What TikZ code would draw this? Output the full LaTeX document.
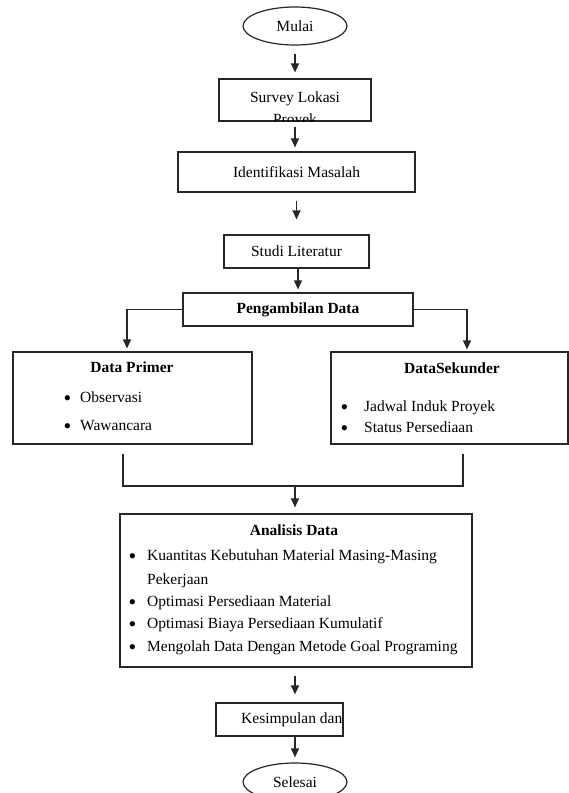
\documentclass[tikz,border=0pt]{standalone}
\usepackage{fontspec}
\setmainfont{Liberation Serif}
\usetikzlibrary{shapes.geometric,arrows.meta}
\newcommand{\blt}{\smash{\raisebox{-3pt}{\fontsize{22}{22}\selectfont•}}}

\begin{document}
\begin{tikzpicture}[x=1pt,y=-1pt,
  font=\fontsize{15.5}{22}\selectfont,
  box/.style={draw=black!85,line width=1.2pt,inner sep=0pt},
  oval/.style={draw=black!85,ellipse,line width=1.2pt,inner sep=0pt,
    minimum width=104pt,minimum height=38pt},
  txt/.style={inner sep=0pt},
  hd/.style={inner sep=0pt,font=\fontsize{15.5}{22}\selectfont\bfseries},
  item/.style={inner sep=0pt,anchor=west},
  arr/.style={draw=black!85,line width=1.2pt,-{Triangle[width=8pt,length=9pt]}},
  ln/.style={draw=black!85,line width=1.2pt}]
  \useasboundingbox (0,0) rectangle (569,793);
  % top of the chart
  \node[oval] (mulai) at (295,26) {Mulai};
  \node[box,minimum width=152pt,minimum height=42pt] (survey) at (295,100) {};
  \begin{scope}
    \clip (survey.south west) rectangle (survey.north east);
    \node[txt,align=center] (surveytxt) at (295,110) {Survey Lokasi\\Proyek};
  \end{scope}
  \node[box,minimum width=237pt,minimum height=40pt] (ident) at (296.5,172) {Identifikasi Masalah};
  \node[box,minimum width=145pt,minimum height=33pt] (studi) at (296.5,251.5) {Studi Literatur};
  \node[box,minimum width=230pt,minimum height=33pt,
    font=\fontsize{15.5}{22}\selectfont\bfseries] (ambil) at (298,309.5) {Pengambilan Data};
  % data boxes
  \node[box,minimum width=239pt,minimum height=92pt] (primer) at (132.5,398) {};
  \node[box,minimum width=237pt,minimum height=92pt] (sekunder) at (449.5,398) {};
  \node[hd] (primerhd) at (132,367) {Data Primer};
  \node[item] (obs) at (63.5,397) {\makebox[16.5pt][l]{\blt}Observasi};
  \node[item] (waw) at (63.5,426) {\makebox[16.5pt][l]{\blt}Wawancara};
  \node[hd] (sekhd) at (452,368) {DataSekunder};
  \node[item] (jadwal) at (340.5,408) {\makebox[23.5pt][l]{\blt}Jadwal Induk Proyek};
  \node[item] (status) at (340.5,427) {\makebox[23.5pt][l]{\blt}Status Persediaan};
  % analysis
  \node[box,minimum width=352pt,minimum height=153pt] (analisis) at (296,590.5) {};
  \node[hd] (anahd) at (294,530) {Analisis Data};
  \node[item] (kuant) at (128.5,557) {\makebox[18.5pt][l]{\blt}Kuantitas Kebutuhan Material Masing-Masing};
  \node[item] (kerja) at (147,581) {Pekerjaan};
  \node[item] (optmat) at (128.5,603) {\makebox[18.5pt][l]{\blt}Optimasi Persediaan Material};
  \node[item] (optbia) at (128.5,625) {\makebox[18.5pt][l]{\blt}Optimasi Biaya Persediaan Kumulatif};
  \node[item] (olah) at (128.5,648) {\makebox[18.5pt][l]{\blt}Mengolah Data Dengan Metode Goal Programing};
  % end of the chart
  \node[box,minimum width=127pt,minimum height=33pt] (simpul) at (279.5,719.5) {};
  \node[item] (simpultxt) at (241,719.5) {Kesimpulan dan};
  \node[oval] (selesai) at (295,782) {Selesai};
  % connectors
  \draw[arr,shorten <=8pt,shorten >=6pt] (mulai.south) -- (survey.north);
  \draw[arr,shorten <=5pt,shorten >=4pt] (survey.south) -- (survey.south |- ident.north);
  \draw[arr,shorten <=8pt,shorten >=15pt] (ident.south) -- (ident.south |- studi.north);
  \draw[arr,shorten >=3pt] (ambil.north |- studi.south) -- (ambil.north);
  \draw[arr,shorten >=3pt] (ambil.west) -| ([xshift=-5.5pt]primer.north);
  \draw[arr,shorten >=2pt] (ambil.east) -| ([xshift=17.5pt]sekunder.north);
  \coordinate (pl) at (123,454);
  \coordinate (pr) at (463,454);
  \coordinate (jl) at (123,486);
  \coordinate (jr) at (463,486);
  \coordinate (jm) at (295,486);
  \draw[ln] (pl) -- (jl) -- (jr) -- (pr);
  \draw[arr,shorten >=6pt] (jm) -- (jm |- analisis.north);
  \draw[arr,shorten <=8pt,shorten >=8pt] (jm |- analisis.south) -- (jm |- simpul.north);
  \draw[arr,shorten >=5pt] (selesai.north |- simpul.south) -- (selesai.north);
\end{tikzpicture}
\end{document}
